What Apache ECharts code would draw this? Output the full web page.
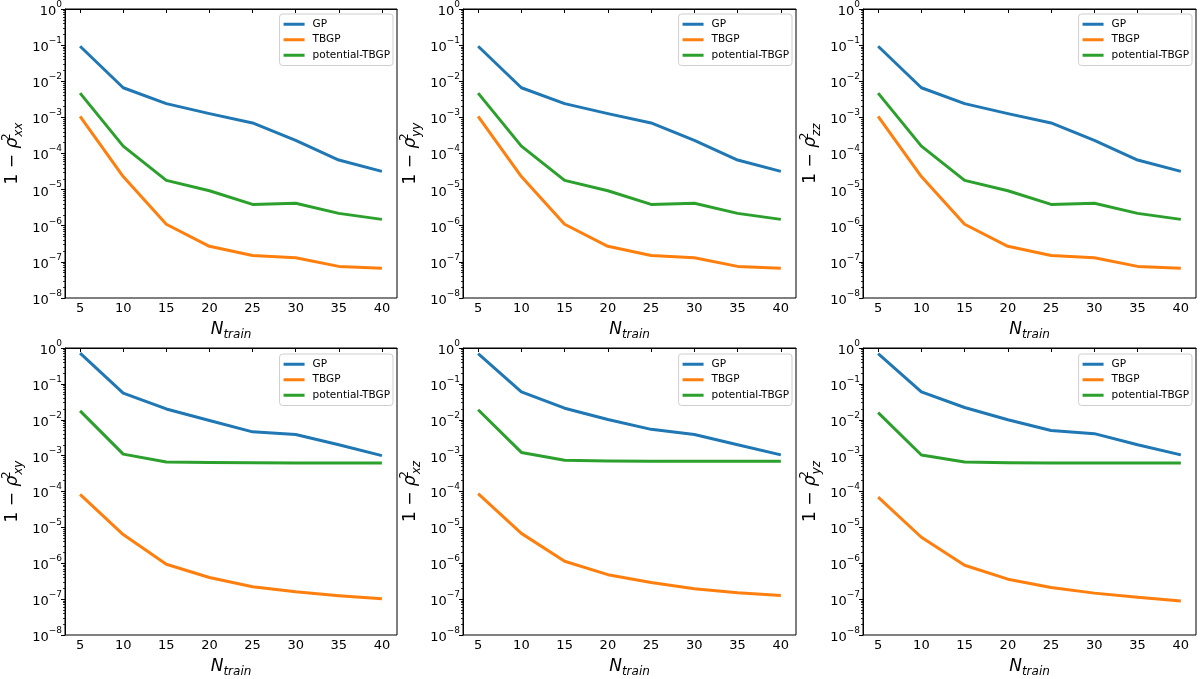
<!DOCTYPE html>
<html>
<head>
<meta charset="utf-8">
<title>1 - rho^2 vs N_train</title>
<script src="https://cdn.jsdelivr.net/npm/echarts@6.0.0/dist/echarts.min.js"></script>
<style>
html, body { margin: 0; padding: 0; background: #fff; }
#chart { width: 1200px; height: 679px; }
</style>
</head>
<body>
<div id="chart"></div>
<script>
// training set sizes
var nTrain = [5, 10, 15, 20, 25, 30, 35, 40];
var xTicks = [5, 10, 15, 20, 25, 30, 35, 40];
var minorSteps = [2, 3, 4, 5, 6, 7, 8, 9];
var seriesNames = ['GP', 'TBGP', 'potential-TBGP'];
var components = ['xx', 'yy', 'zz', 'xy', 'xz', 'yz'];

// values
var gpXX   = [0.093, 6.6e-3, 2.4e-3, 1.27e-3, 7e-4, 2.3e-4, 6.6e-5, 3.2e-5];
var tbgpXX = [1.07e-3, 2.3e-5, 1.1e-6, 2.7e-7, 1.5e-7, 1.3e-7, 7.5e-8, 6.7e-8];
var potXX  = [4.7e-3, 1.6e-4, 1.8e-5, 9.3e-6, 3.9e-6, 4.2e-6, 2.2e-6, 1.5e-6];

var gpYY   = [0.093, 6.6e-3, 2.4e-3, 1.27e-3, 7e-4, 2.3e-4, 6.6e-5, 3.2e-5];
var tbgpYY = [1.07e-3, 2.3e-5, 1.1e-6, 2.7e-7, 1.5e-7, 1.3e-7, 7.5e-8, 6.7e-8];
var potYY  = [4.7e-3, 1.6e-4, 1.8e-5, 9.3e-6, 3.9e-6, 4.2e-6, 2.2e-6, 1.5e-6];

var gpZZ   = [0.093, 6.6e-3, 2.4e-3, 1.27e-3, 7e-4, 2.3e-4, 6.6e-5, 3.2e-5];
var tbgpZZ = [1.07e-3, 2.3e-5, 1.1e-6, 2.7e-7, 1.5e-7, 1.3e-7, 7.5e-8, 6.7e-8];
var potZZ  = [4.7e-3, 1.6e-4, 1.8e-5, 9.3e-6, 3.9e-6, 4.2e-6, 2.2e-6, 1.5e-6];

var gpXY   = [0.72, 0.055, 0.02, 0.0095, 0.0046, 0.0039, 0.002, 0.001];
var tbgpXY = [8.3e-5, 6.3e-6, 9.4e-7, 4e-7, 2.2e-7, 1.6e-7, 1.25e-7, 1.02e-7];
var potXY  = [0.0177, 1.1e-3, 6.6e-4, 6.4e-4, 6.3e-4, 6.2e-4, 6.2e-4, 6.2e-4];

var gpXZ   = [0.7, 0.06, 0.021, 0.0102, 0.0054, 0.0039, 0.002, 0.00105];
var tbgpXZ = [8.7e-5, 6.8e-6, 1.14e-6, 4.8e-7, 2.9e-7, 1.96e-7, 1.5e-7, 1.26e-7];
var potXZ  = [0.019, 1.23e-3, 7.4e-4, 7.1e-4, 7e-4, 7e-4, 7e-4, 7e-4];

var gpYZ   = [0.7, 0.06, 0.022, 0.01, 0.005, 0.0041, 0.002, 0.00105];
var tbgpYZ = [7e-5, 5.3e-6, 8.8e-7, 3.6e-7, 2.1e-7, 1.47e-7, 1.12e-7, 8.9e-8];
var potYZ  = [0.0158, 1.04e-3, 6.6e-4, 6.3e-4, 6.2e-4, 6.2e-4, 6.2e-4, 6.2e-4];

var panelData = [
	[gpXX, tbgpXX, potXX],
	[gpYY, tbgpYY, potYY],
	[gpZZ, tbgpZZ, potZZ],
	[gpXY, tbgpXY, potXY],
	[gpXZ, tbgpXZ, potXZ],
	[gpYZ, tbgpYZ, potYZ]
];

var colors = ['#1f77b4', '#ff7f0e', '#2ca02c'];
var FONT = 'DejaVu Sans';

// panel boxes in pixels
var gridLefts = [63, 463, 863];
var gridWidths = [334, 333, 333];
var gridTops = [8, 348];
var gridHeights = [290, 291];

var minorTicks = [];
for (var ex0 = -8; ex0 < 0; ex0++) {
	for (var k = 0; k < minorSteps.length; k++) {
		minorTicks.push(ex0 + Math.log10(minorSteps[k]));
	}
}

function pairs(ys) {
	var out = [];
	for (var i = 0; i < nTrain.length; i++) {
		out.push([nTrain[i], ys[i]]);
	}
	return out;
}

function powLabel(value) {
	var ex = Math.round(Math.log10(value));
	var s = ex < 0 ? '\u2212' + (-ex) : '' + ex;
	return '{b|10}{e|' + s + '}';
}

function buildOption() {
	var grids = [], xAxes = [], yAxes = [], series = [], legends = [];

	for (var p = 0; p < 6; p++) {
		var row = Math.floor(p / 3), col = p % 3;
		var gLeft = gridLefts[col], gWidth = gridWidths[col];
		var gTop = gridTops[row], gHeight = gridHeights[row];

		grids.push({
			left: gLeft, top: gTop, width: gWidth, height: gHeight,
			show: true, borderColor: '#000', borderWidth: 1, backgroundColor: 'transparent'
		});

		xAxes.push({
			type: 'value', gridIndex: p, min: 3.25, max: 41.75,
			name: '{n|N}{s|train}', nameLocation: 'middle', nameGap: 21,
			nameTextStyle: {
				rich: {
					n: { fontFamily: FONT, fontStyle: 'italic', fontSize: 17, color: '#000', lineHeight: 22 },
					s: { fontFamily: FONT, fontStyle: 'italic', fontSize: 12, color: '#000', lineHeight: 12, verticalAlign: 'bottom' }
				}
			},
			axisLine: { lineStyle: { color: '#000', width: 1 } },
			axisTick: { customValues: xTicks, length: 4, lineStyle: { color: '#000' } },
			axisLabel: { customValues: xTicks, fontFamily: FONT, fontSize: 13, color: '#000', margin: 4 },
			splitLine: { show: false }
		});

		yAxes.push({
			type: 'log', logBase: 10, gridIndex: p, min: 1e-8, max: 1, interval: 1,
			name: '{a|1 \u2212 }{r|\u03c1}{p|2}{q|' + components[p] + '}',
			nameLocation: 'middle', nameGap: 40, nameRotate: 90,
			nameTextStyle: {
				rich: {
					a: { fontFamily: FONT, fontSize: 17, color: '#000', lineHeight: 24 },
					r: { fontFamily: FONT, fontStyle: 'italic', fontSize: 17, color: '#000', lineHeight: 24 },
					p: { fontFamily: FONT, fontSize: 12, color: '#000', lineHeight: 12, verticalAlign: 'top', width: 1 },
					q: { fontFamily: FONT, fontStyle: 'italic', fontSize: 12, color: '#000', lineHeight: 12, verticalAlign: 'bottom' }
				}
			},
			axisLine: { show: true, lineStyle: { color: '#000', width: 1 } },
			axisTick: { show: true, length: 4, lineStyle: { color: '#000' } },
			axisLabel: {
				formatter: powLabel, margin: 3,
				rich: {
					b: { fontFamily: FONT, fontSize: 13, color: '#000', lineHeight: 18, verticalAlign: 'bottom' },
					e: { fontFamily: FONT, fontSize: 9, color: '#000', lineHeight: 12, verticalAlign: 'top' }
				}
			},
			splitLine: { show: false }
		});
		// minor ticks of the log axis
		yAxes.push({
			type: 'value', gridIndex: p, min: -8, max: 0, position: 'left',
			axisLine: { show: false },
			axisTick: { show: true, customValues: minorTicks, length: 2, lineStyle: { color: '#000', width: 0.8 } },
			axisLabel: { show: false },
			splitLine: { show: false }
		});

		for (var s = 0; s < 3; s++) {
			series.push({
				name: seriesNames[s],
				type: 'line',
				xAxisIndex: p,
				yAxisIndex: p * 2,
				data: pairs(panelData[p][s]),
				showSymbol: false,
				symbol: 'none',
				color: colors[s],
				lineStyle: { width: 3, color: colors[s], cap: 'butt', join: 'round' },
				z: 3 + s
			});
		}

		legends.push({
			data: seriesNames,
			orient: 'vertical',
			right: 1200 - (gLeft + gWidth) + 4,
			top: gTop + 6,
			align: 'left',
			icon: 'rect',
			itemWidth: 21,
			itemHeight: 3,
			itemGap: 3,
			selectedMode: false,
			padding: [4, 3, 4, 4],
			backgroundColor: '#fff',
			borderColor: '#cfcfcf',
			borderWidth: 1,
			borderRadius: 3,
			textStyle: { fontFamily: FONT, fontSize: 10.5, color: '#000', lineHeight: 12.5, padding: [0, 0, 0, 3] }
		});
	}

	return {
		animation: false,
		backgroundColor: '#fff',
		grid: grids,
		xAxis: xAxes,
		yAxis: yAxes,
		legend: legends,
		series: series
	};
}

var chart = echarts.init(document.getElementById('chart'));
chart.setOption(buildOption());
</script>
</body>
</html>
